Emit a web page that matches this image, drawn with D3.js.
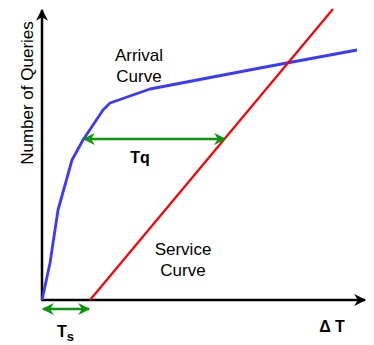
<!DOCTYPE html>
<html><head><meta charset="utf-8">
<script src="https://cdn.jsdelivr.net/npm/d3@7"></script>
<style>html,body{margin:0;padding:0;background:#fff;}svg{display:block;font-family:"Liberation Sans",Arial,sans-serif;}</style>
</head><body>
<svg id="c" width="374" height="345"></svg>
<script>
// data (time units, query units)
const arrivalX = [0, 8, 16, 30, 41, 61, 68, 108, 218, 315];
const arrivalY = [0, 37, 90, 140, 160, 190, 197, 211, 232, 250];
const serviceX = [48, 291];
const serviceY = [0, 291];
const tqLevel = 161, tqStart = 41, tqEnd = 184;
const tsLevel = -9, tsStart = 0, tsEnd = 48;

const svg = d3.select("#c");
const x = d3.scaleLinear().domain([0, 320]).range([42, 362]);
const y = d3.scaleLinear().domain([0, 290]).range([300, 10]);

const defs = svg.append("defs");
function marker(id, color, w, h) {
  defs.append("marker").attr("id", id).attr("viewBox", "0 0 10 10")
    .attr("refX", 9).attr("refY", 5).attr("markerUnits", "userSpaceOnUse")
    .attr("markerWidth", w).attr("markerHeight", h).attr("orient", "auto-start-reverse")
    .append("path").attr("d", "M0,0 L10,5 L0,10 L3,5 Z").attr("fill", color);
}
marker("ab", "#000", 13, 12);
marker("ag", "#0a960a", 13, 12);

// axes
svg.append("line").attr("x1", x(0)).attr("y1", y(0)).attr("x2", x(0)).attr("y2", y(290))
  .attr("stroke", "#000").attr("stroke-width", 2.5).attr("marker-end", "url(#ab)");
svg.append("line").attr("x1", x(0) - 1).attr("y1", y(0)).attr("x2", x(323)).attr("y2", y(0))
  .attr("stroke", "#000").attr("stroke-width", 2.5).attr("marker-end", "url(#ab)");

const line = d3.line().x(d => x(d[0])).y(d => y(d[1]));
svg.append("path").datum(arrivalX.map((v, i) => [v, arrivalY[i]]))
  .attr("d", line).attr("fill", "none").attr("stroke", "#3a3aff").attr("stroke-width", 2.8)
  .attr("stroke-linejoin", "round");
svg.append("path").datum(serviceX.map((v, i) => [v, serviceY[i]]))
  .attr("d", line).attr("fill", "none").attr("stroke", "#ff0000").attr("stroke-width", 2.2);

// green arrows
function dbl(x1, x2, lv) {
  svg.append("line").attr("x1", x(x1) + 1).attr("x2", x(x2) - 1).attr("y1", y(lv)).attr("y2", y(lv))
    .attr("stroke", "#0a960a").attr("stroke-width", 2.5)
    .attr("marker-start", "url(#ag)").attr("marker-end", "url(#ag)");
}
dbl(tqStart, tqEnd, tqLevel);
dbl(tsStart, tsEnd, tsLevel);

// texts
svg.append("text").attr("transform", `translate(33,93) rotate(-90)`).attr("text-anchor", "middle")
  .attr("font-size", 17).text("Number of Queries");
const arr = svg.append("text").attr("text-anchor", "middle").attr("font-size", 17);
arr.append("tspan").attr("x", 139).attr("y", 61).text("Arrival");
arr.append("tspan").attr("x", 139).attr("y", 82).text("Curve");
const srv = svg.append("text").attr("text-anchor", "middle").attr("font-size", 17);
srv.append("tspan").attr("x", 183).attr("y", 255).text("Service");
srv.append("tspan").attr("x", 183).attr("y", 276).text("Curve");
svg.append("text").attr("x", 140).attr("y", 163).attr("text-anchor", "middle")
  .attr("font-size", 16).attr("font-weight", "bold").text("Tq");
const ts = svg.append("text").attr("x", 57).attr("y", 337).attr("font-size", 16).attr("font-weight", "bold");
ts.append("tspan").text("T");
ts.append("tspan").attr("dy", 4).attr("font-size", 13).text("s");
svg.append("text").attr("x", 332).attr("y", 332).attr("text-anchor", "middle")
  .attr("font-size", 16).attr("font-weight", "bold").text("\u0394 T");
</script>
</body></html>
